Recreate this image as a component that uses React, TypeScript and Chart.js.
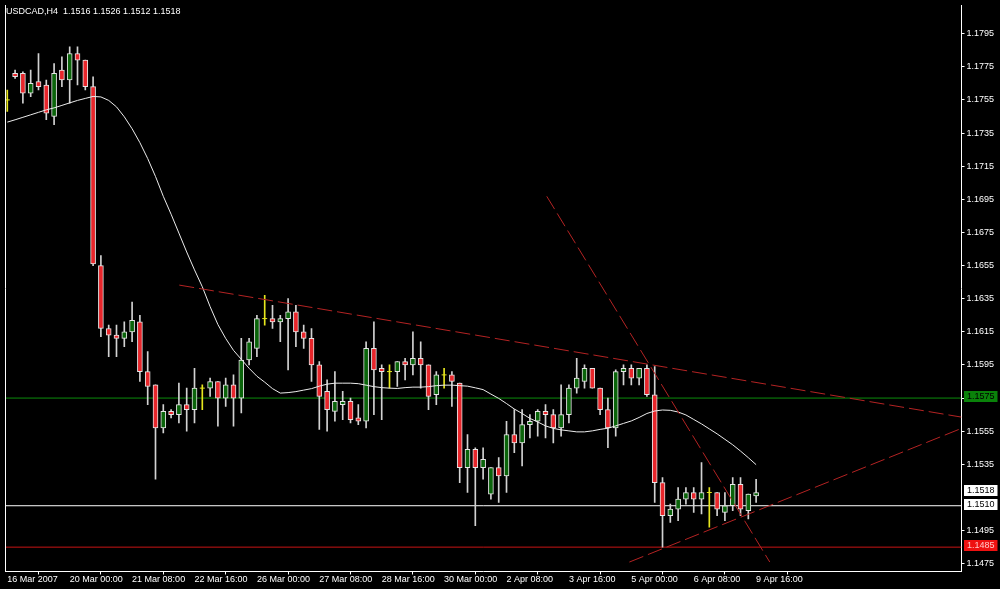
import React, { useEffect, useRef } from "react";
import { Chart, registerables } from "chart.js";

Chart.register(...registerables);

// ---------- data ----------
const chartTitle = "USDCAD,H4  1.1516 1.1526 1.1512 1.1518";

const opens = [
  1.1755, 1.1771, 1.1771, 1.1759, 1.1766, 1.1764, 1.1745, 1.1773, 1.1767, 1.1783,
  1.1779, 1.1763, 1.1655, 1.1617, 1.1613, 1.1611, 1.1615, 1.1621, 1.1591, 1.1583,
  1.1557, 1.1567, 1.1565, 1.1571, 1.1568, 1.1581, 1.1581, 1.1585, 1.1575, 1.1583,
  1.1575, 1.1598, 1.1605, 1.1623, 1.1623, 1.1621, 1.1623, 1.1627, 1.1615, 1.1611,
  1.1595, 1.1579, 1.1567, 1.1571, 1.1573, 1.1563, 1.1561, 1.1605, 1.1593, 1.1591,
  1.1591, 1.1597, 1.1595, 1.1599, 1.1595, 1.1577, 1.1589, 1.1589, 1.1584, 1.1533,
  1.1544, 1.1533, 1.1517, 1.1533, 1.1528, 1.1553, 1.1548, 1.1559, 1.1561, 1.1567,
  1.1565, 1.1557, 1.1565, 1.1581, 1.1585, 1.1593, 1.1581, 1.1568, 1.1557, 1.1591,
  1.1593, 1.1587, 1.1593, 1.1577, 1.1524, 1.1504, 1.1508, 1.1514, 1.1518, 1.1514,
  1.1518, 1.1518, 1.1506, 1.151, 1.1523, 1.1507, 1.1516,
];
const highs = [
  1.1761, 1.1773, 1.1772, 1.1773, 1.1783, 1.1767, 1.1777, 1.1781, 1.1787, 1.1787,
  1.1779, 1.1769, 1.1661, 1.1619, 1.1619, 1.1621, 1.1633, 1.1625, 1.1603, 1.1583,
  1.1571, 1.1568, 1.1584, 1.1581, 1.1593, 1.1583, 1.1587, 1.1585, 1.1587, 1.1589,
  1.1611, 1.1611, 1.1625, 1.1637, 1.1631, 1.1625, 1.1635, 1.1631, 1.1619, 1.1617,
  1.1597, 1.1586, 1.1591, 1.1579, 1.1575, 1.1571, 1.1609, 1.1621, 1.1595, 1.1595,
  1.1597, 1.1599, 1.1615, 1.1609, 1.1595, 1.1591, 1.1593, 1.1591, 1.1584, 1.1553,
  1.1545, 1.1545, 1.1533, 1.1539, 1.1561, 1.1568, 1.1568, 1.1565, 1.1568, 1.1571,
  1.1568, 1.1583, 1.1583, 1.1599, 1.1595, 1.1593, 1.1581, 1.1575, 1.1592, 1.1595,
  1.1595, 1.1593, 1.1595, 1.1594, 1.1527, 1.1511, 1.1521, 1.1521, 1.1521, 1.1536,
  1.1521, 1.1518, 1.1518, 1.1527, 1.1527, 1.1517, 1.1526,
];
const lows = [
  1.1748, 1.1768, 1.1753, 1.1757, 1.1761, 1.1743, 1.174, 1.1763, 1.1753, 1.1764,
  1.1761, 1.1655, 1.1612, 1.16, 1.16, 1.1606, 1.1609, 1.1585, 1.1571, 1.1526,
  1.1554, 1.1563, 1.156, 1.1555, 1.156, 1.1568, 1.1576, 1.1558, 1.157, 1.1558,
  1.1566, 1.1595, 1.16, 1.1619, 1.1617, 1.1609, 1.1592, 1.1606, 1.1605, 1.1585,
  1.1556, 1.1555, 1.1561, 1.1562, 1.156, 1.1559, 1.1557, 1.1565, 1.1562, 1.1581,
  1.1582, 1.1586, 1.1589, 1.1581, 1.1568, 1.1571, 1.1581, 1.157, 1.1524, 1.1518,
  1.1498, 1.1526, 1.1514, 1.1512, 1.1518, 1.1542, 1.1534, 1.1551, 1.1552, 1.1551,
  1.1548, 1.1552, 1.156, 1.1578, 1.1581, 1.1581, 1.1565, 1.1545, 1.1552, 1.1583,
  1.1583, 1.1583, 1.1576, 1.1512, 1.1485, 1.15, 1.1501, 1.1511, 1.1506, 1.1505,
  1.1497, 1.1504, 1.1501, 1.1507, 1.1504, 1.1502, 1.1512,
];
const closes = [
  1.1755, 1.1769, 1.1759, 1.1765, 1.1763, 1.1747, 1.1771, 1.1767, 1.1783, 1.1779,
  1.1763, 1.1656, 1.1617, 1.1613, 1.1611, 1.1615, 1.1622, 1.1591, 1.1582, 1.1557,
  1.1567, 1.1565, 1.1571, 1.1568, 1.1581, 1.1581, 1.1585, 1.1575, 1.1583, 1.1575,
  1.1598, 1.1609, 1.1623, 1.1623, 1.1621, 1.1623, 1.1627, 1.1615, 1.1611, 1.1595,
  1.1576, 1.1568, 1.1573, 1.1573, 1.1562, 1.1561, 1.1605, 1.1592, 1.1591, 1.1591,
  1.1597, 1.1595, 1.1599, 1.1595, 1.1576, 1.1589, 1.1589, 1.1585, 1.1533, 1.1544,
  1.1533, 1.1538, 1.1533, 1.1528, 1.1553, 1.1548, 1.1559, 1.1561, 1.1567, 1.1565,
  1.1557, 1.1565, 1.1581, 1.1587, 1.1593, 1.1581, 1.1568, 1.1557, 1.1591, 1.1593,
  1.1587, 1.1593, 1.1577, 1.1524, 1.1504, 1.1508, 1.1514, 1.1518, 1.1514, 1.1518,
  1.1518, 1.1508, 1.151, 1.1523, 1.1508, 1.1517, 1.1518,
];
const maValues = [
  1.17416, 1.1743, 1.17445, 1.1746, 1.17475, 1.1749, 1.17502, 1.17517, 1.17532, 1.17547,
  1.17559, 1.17571, 1.17568, 1.17547, 1.17508, 1.17448, 1.17376, 1.17292, 1.17196, 1.17088,
  1.16968, 1.1686, 1.16746, 1.16632, 1.16524, 1.16422, 1.16302, 1.16194, 1.1611, 1.16038,
  1.15984, 1.1593, 1.15882, 1.15846, 1.15807, 1.1578, 1.15783, 1.15789, 1.15798, 1.15807,
  1.15822, 1.15834, 1.1584, 1.1584, 1.1584, 1.15837, 1.15828, 1.15819, 1.15813, 1.1581,
  1.15808, 1.15813, 1.15816, 1.15816, 1.15819, 1.15825, 1.15828, 1.15828, 1.15825, 1.15822,
  1.15812, 1.15801, 1.15774, 1.15748, 1.15717, 1.15684, 1.15657, 1.15627, 1.15606, 1.15582,
  1.15567, 1.15558, 1.15552, 1.15546, 1.15546, 1.15552, 1.15561, 1.15568, 1.15582, 1.15597,
  1.15612, 1.15633, 1.15657, 1.15672, 1.15678, 1.15676, 1.15666, 1.15648, 1.15621, 1.15594,
  1.15564, 1.15534, 1.15501, 1.15468, 1.1543, 1.1539, 1.15348,
];

const xTickBars = [0, 8, 16, 24, 32, 40, 48, 56, 64, 72, 80, 88, 96];
const xTickLabels = [
  "16 Mar 2007", "20 Mar 00:00", "21 Mar 08:00", "22 Mar 16:00", "26 Mar 00:00",
  "27 Mar 08:00", "28 Mar 16:00", "30 Mar 00:00", "2 Apr 08:00", "3 Apr 16:00",
  "5 Apr 00:00", "6 Apr 08:00", "9 Apr 16:00",
];
const yTickValues = [
  1.1795, 1.1775, 1.1755, 1.1735, 1.1715, 1.1695, 1.1675, 1.1655, 1.1635, 1.1615,
  1.1595, 1.1575, 1.1555, 1.1535, 1.1495, 1.1475,
];

// horizontal lines (price levels)
const hLineLevels = [1.1575, 1.151, 1.1485];
const hLineColors = ["#0c8c0c", "#ffffff", "#c81414"];

// price tags on the right axis
const tagValues = [1.1575, 1.1518, 1.151, 1.1485];
const tagBackgrounds = ["#0a820a", "#ffffff", "#ffffff", "#ee1111"];
const tagTextColors = ["#000000", "#000000", "#000000", "#ffc8c8"];

// dashed trend lines: [bar index, price] endpoints
const trendUpperBars = [22.05, 122.33];
const trendUpperPrices = [1.16432, 1.15635];
const trendSteepBars = [69.16, 97.75];
const trendSteepPrices = [1.16968, 1.1476];
const trendRisingBars = [79.75, 122.33];
const trendRisingPrices = [1.1476, 1.15567];

// axis ranges
const X_MIN = -0.294;
const X_MAX = 122.33;
const Y_MIN = 1.14703;
const Y_MAX = 1.18123;

const FONT = "'Liberation Sans', Arial, sans-serif";
const FONT_SIZE = 9;

const BULL_FILL = "#0a640a";
const BEAR_FILL = "#e8262b";
const CANDLE_EDGE = "#e6e6e6";
const WICK = "#d2d2d2";
const DOJI = "#e6e61e";
const TREND = "#b42323";

const overlayPlugin = {
  id: "mtOverlay",
  afterDraw(chart: any) {
    const { ctx, chartArea, scales } = chart;
    const y = scales.y;
    ctx.save();
    // left frame line
    ctx.strokeStyle = "#ffffff";
    ctx.lineWidth = 1;
    ctx.beginPath();
    ctx.moveTo(chartArea.left + 0.5, chartArea.top);
    ctx.lineTo(chartArea.left + 0.5, chartArea.bottom);
    ctx.stroke();
    // price tags
    ctx.font = FONT_SIZE + "px " + FONT;
    ctx.textBaseline = "middle";
    ctx.textAlign = "left";
    tagValues.forEach((v, i) => {
      const py = Math.round(y.getPixelForValue(v));
      const top = py - 7;
      ctx.fillStyle = tagBackgrounds[i];
      ctx.fillRect(chartArea.right + 2.5, top, 33.5, 11);
      ctx.fillStyle = tagTextColors[i];
      ctx.fillText(v.toFixed(4), chartArea.right + 5.5, top + 5.5);
    });
    ctx.restore();
  },
};

export default function App() {
  const ref = useRef<HTMLCanvasElement | null>(null);

  useEffect(() => {
    if (!ref.current) return;
    const idx = opens.map((_, i) => i);
    const isDoji = (i: number) => opens[i] === closes[i];

    const bullBodies = idx
      .filter((i) => closes[i] > opens[i])
      .map((i) => ({ x: i, y: [opens[i], closes[i]] }));
    const bearBodies = idx
      .filter((i) => closes[i] < opens[i])
      .map((i) => ({ x: i, y: [closes[i], opens[i]] }));
    const wicks = idx.filter((i) => !isDoji(i)).map((i) => ({ x: i, y: [lows[i], highs[i]] }));
    const dojiWicks = idx.filter(isDoji).map((i) => ({ x: i, y: [lows[i], highs[i]] }));
    const dojiMarks = idx.filter(isDoji).map((i) => ({ x: i, y: opens[i] }));
    const maPoints = maValues.map((v, i) => ({ x: i, y: v }));

    const mkTrend = (bars: number[], prices: number[]) => ({
      type: "line" as const,
      data: bars.map((b, i) => ({ x: b, y: prices[i] })),
      borderColor: TREND,
      borderWidth: 1,
      borderDash: [15, 5],
      pointRadius: 0,
      order: 0,
    });

    const hLines = hLineLevels.map((lv, i) => ({
      type: "line" as const,
      data: [
        { x: X_MIN, y: lv },
        { x: X_MAX, y: lv },
      ],
      borderColor: hLineColors[i],
      borderWidth: 1,
      pointRadius: 0,
      order: 6,
    }));

    const chart = new Chart(ref.current, {
      type: "bar",
      data: {
        datasets: [
          mkTrend(trendUpperBars, trendUpperPrices),
          mkTrend(trendSteepBars, trendSteepPrices),
          mkTrend(trendRisingBars, trendRisingPrices),
          {
            type: "line",
            data: maPoints,
            borderColor: "#ececec",
            borderWidth: 1,
            pointRadius: 0,
            tension: 0,
            order: 1,
          },
          {
            type: "line",
            data: dojiMarks,
            showLine: false,
            pointStyle: "line",
            pointRadius: 2.5,
            pointBorderColor: DOJI,
            pointBorderWidth: 1,
            order: 2,
          },
          {
            type: "bar",
            data: bullBodies,
            backgroundColor: BULL_FILL,
            borderColor: CANDLE_EDGE,
            borderWidth: 1,
            borderSkipped: false,
            barThickness: 5,
            grouped: false,
            order: 3,
          },
          {
            type: "bar",
            data: bearBodies,
            backgroundColor: BEAR_FILL,
            borderColor: CANDLE_EDGE,
            borderWidth: 1,
            borderSkipped: false,
            barThickness: 5,
            grouped: false,
            order: 3,
          },
          {
            type: "bar",
            data: wicks,
            backgroundColor: WICK,
            borderWidth: 0,
            barThickness: 1,
            grouped: false,
            order: 4,
          },
          {
            type: "bar",
            data: dojiWicks,
            backgroundColor: DOJI,
            borderWidth: 0,
            barThickness: 1,
            grouped: false,
            order: 4,
          },
          ...hLines,
        ] as any,
      },
      options: {
        responsive: false,
        maintainAspectRatio: false,
        animation: false,
        devicePixelRatio: 1,
        events: [],
        layout: { padding: { left: 1, top: 1.5, right: 0, bottom: 0 } },
        plugins: {
          legend: { display: false },
          tooltip: { enabled: false },
          title: { display: false },
        },
        scales: {
          x: {
            type: "linear",
            min: X_MIN,
            max: X_MAX,
            offset: false,
            position: "bottom",
            afterBuildTicks: (s: any) => {
              s.ticks = xTickBars.map((v) => ({ value: v }));
            },
            afterFit: (s: any) => {
              s.height = 17.5;
              s.paddingLeft = 0;
              s.paddingRight = 0;
            },
            ticks: {
              color: "#ffffff",
              font: { family: FONT, size: FONT_SIZE },
              padding: 0,
              align: "start",
              autoSkip: false,
              maxRotation: 0,
              minRotation: 0,
              callback: (_v: any, i: number) => xTickLabels[i],
            },
            grid: { drawOnChartArea: false, drawTicks: true, tickLength: 3, color: "#ffffff" },
            border: { display: true, color: "#ffffff", width: 1 },
          },
          y: {
            type: "linear",
            position: "right",
            min: Y_MIN,
            max: Y_MAX,
            afterBuildTicks: (s: any) => {
              s.ticks = yTickValues.map((v) => ({ value: v }));
            },
            afterFit: (s: any) => {
              s.width = 38.5;
              s.paddingTop = 0;
              s.paddingBottom = 0;
            },
            ticks: {
              color: "#ffffff",
              font: { family: FONT, size: FONT_SIZE },
              padding: 2,
              autoSkip: false,
              callback: (v: any) => Number(v).toFixed(4),
            },
            grid: { drawOnChartArea: false, drawTicks: true, tickLength: 3, color: "#ffffff" },
            border: { display: true, color: "#ffffff", width: 1 },
          },
        },
      } as any,
      plugins: [overlayPlugin],
    });
    return () => chart.destroy();
  }, []);

  return (
    <div
      style={{
        position: "fixed",
        left: 0,
        top: 0,
        width: 1000,
        height: 589,
        background: "#000000",
        overflow: "hidden",
      }}
    >
      <canvas ref={ref} width={1000} height={589} style={{ display: "block" }} />
      <div
        style={{
          position: "absolute",
          left: 6,
          top: 5,
          color: "#ffffff",
          fontFamily: FONT,
          fontSize: FONT_SIZE,
          lineHeight: "12px",
          whiteSpace: "pre",
        }}
      >
        {chartTitle}
      </div>
    </div>
  );
}
